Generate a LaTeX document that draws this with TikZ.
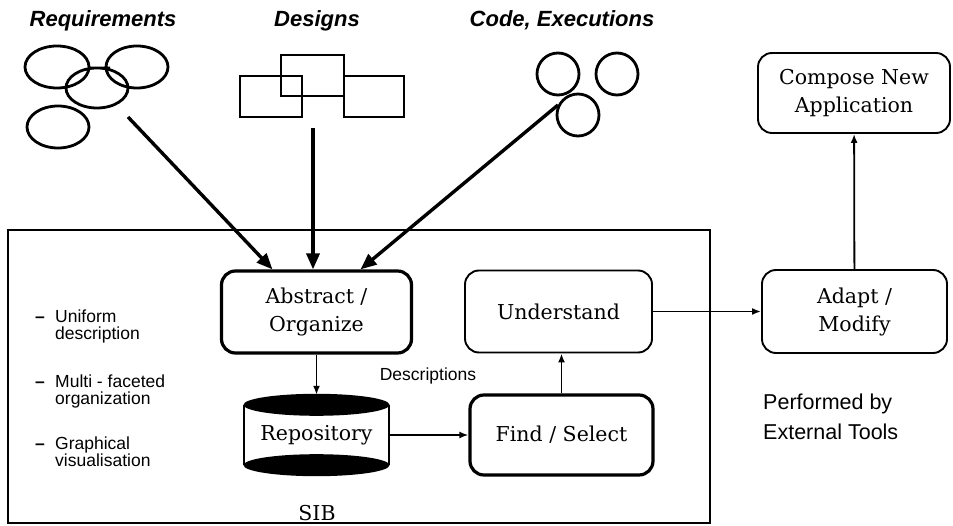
\documentclass[tikz,border=0pt]{standalone}
\usepackage{fontspec}
\setmainfont{DejaVu Serif}
\setsansfont{Liberation Sans}
\usetikzlibrary{arrows.meta,positioning,calc}

\begin{document}
\begin{tikzpicture}[x=1pt,y=-1pt,
    serif/.style={font=\fontsize{20.5}{28}\selectfont},
    box/.style={draw, serif, rounded corners=14pt, line width=1.9pt, align=center, inner sep=0pt},
    heavybox/.style={box, line width=3.2pt},
    arr/.style={-{Latex[length=9pt,width=7pt]}, line width=1.8pt},
    bigarr/.style={-{Triangle[length=16pt,width=13pt]}, line width=3.4pt},
    heading/.style={font=\fontsize{22}{24}\selectfont\sffamily\bfseries\itshape, anchor=base},
    remark/.style={font=\fontsize{17.5}{17}\selectfont\sffamily, align=left, inner sep=0pt},
    sketch/.style={line width=2.8pt}]
  \useasboundingbox (0,0) rectangle (953,526);

  % sources on top
  \node[heading] (treq) at (103,27) {Requirements};
  \node[heading] (tdes) at (317,27) {Designs};
  \node[heading] (tcode) at (562,27) {Code, Executions};

  \draw[sketch] (57,67) ellipse [x radius=32pt, y radius=21pt]
    (137,67) ellipse [x radius=31pt, y radius=21pt]
    (97,88) ellipse [x radius=31pt, y radius=20pt]
    (58,127) ellipse [x radius=31pt, y radius=21pt]
    (88,68) -- (110,68);
  \draw[sketch] (240,76) rectangle (302,117)
    (281,55) rectangle (344,96)
    (344,76) rectangle (404,117);
  \draw[sketch] (558,74) circle [radius=21pt]
    (617,74) circle [radius=21pt]
    (578,115) circle [radius=21pt];
  \coordinate (reqout) at (128,117);
  \coordinate (desout) at (313,128);
  \coordinate (codeout) at (558,105);

  % SIB frame
  \node[draw, line width=1.7pt, minimum width=702pt, minimum height=293pt, inner sep=0pt] (frame) at (359,376.5) {};
  \node[serif, anchor=base] (sib) at (317,520) {SIB};

  \node[remark, anchor=north west] (b1) at (35,310) {\makebox[20pt][l]{\textbf{\textendash}}Uniform\\\hspace*{20pt}description};
  \node[remark, anchor=north west] (b2) at (35,375) {\makebox[20pt][l]{\textbf{\textendash}}Multi - faceted\\\hspace*{20pt}organization};
  \node[remark, anchor=north west] (b3) at (35,437) {\makebox[20pt][l]{\textbf{\textendash}}Graphical\\\hspace*{20pt}visualisation};

  \node[heavybox, minimum width=190pt, minimum height=82pt] (abs) at (316.5,312) {Abstract /\\Organize};
  \node[serif, inner sep=0pt, minimum width=145pt, minimum height=80pt] (repo) at (316.5,435) {Repository};
  \draw[line width=2.2pt] ([yshift=-10pt]repo.north west) -- ([yshift=10pt]repo.south west)
    ([yshift=-10pt]repo.north east) -- ([yshift=10pt]repo.south east);
  \fill ([yshift=-10pt]repo.north) ellipse [x radius=73pt, y radius=11pt];
  \fill ([yshift=10pt]repo.south) ellipse [x radius=73pt, y radius=11pt];
  \node[box, minimum width=187pt, minimum height=82pt] (und) at (558.5,311.5) {Understand};
  \node[heavybox, minimum width=183pt, minimum height=80pt] (fnd) at (561.5,435) {Find / Select};
  \node[remark, anchor=base] (desc) at (428,381) {Descriptions};

  % external tools
  \node[box, minimum width=185pt, minimum height=83pt] (adp) at (854.5,311.5) {Adapt /\\Modify};
  \node[box, minimum width=192pt, minimum height=80pt] (cmp) at (854,93) {Compose New\\Application};
  \node[anchor=north west, font=\fontsize{21.5}{30}\selectfont\sffamily, align=left, inner sep=0pt] (ext) at (763,394) {Performed by\\External Tools};

  \draw[bigarr] (reqout) -- ([xshift=-44pt]abs.north);
  \draw[bigarr] (desout) -- (desout |- abs.north);
  \draw[bigarr] (codeout) -- ([xshift=44pt]abs.north);
  \draw[arr] (abs) -- (repo);
  \draw[arr] (repo) -- (fnd);
  \draw[arr] (fnd.north) -- (fnd.north |- und.south);
  \draw[arr] (und) -- (adp);
  \draw[arr] (adp) -- (cmp);
\end{tikzpicture}
\end{document}
